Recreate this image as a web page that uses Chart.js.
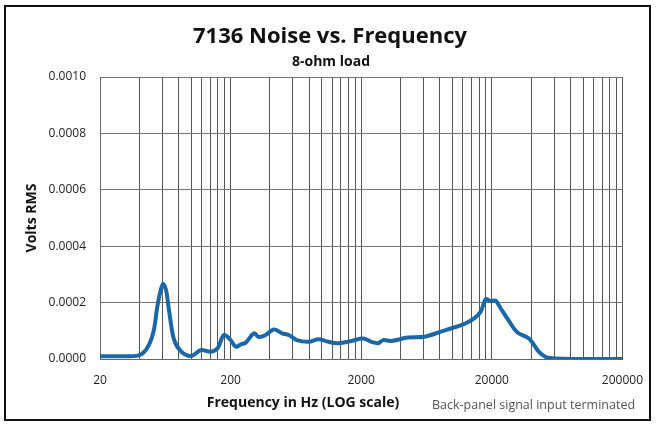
<!DOCTYPE html>
<html>
<head>
<meta charset="utf-8">
<script src="https://cdn.jsdelivr.net/npm/chart.js@4.4.1/dist/chart.umd.min.js"></script>
<style>
    html, body { margin: 0; padding: 0; background: #fff; overflow: hidden; }
    #wrap { position: relative; width: 657px; height: 424px; }
</style>
</head>
<body>
<div id="wrap"><canvas id="grafico" width="657" height="424"></canvas></div>
<script>
// frequências (Hz)
const freqHz = [20, 28, 39, 45, 51, 55.5, 60.5, 64, 68, 74, 84, 100, 119, 141, 159, 178, 200, 219, 240, 261, 302, 329, 371, 428, 496, 557, 644, 791, 942, 1122, 1337, 1688, 2070, 2394, 2692, 2938, 3398, 4550, 6098, 8160, 10320, 12300, 14650, 16450, 17970, 19600, 21380, 23340, 27040, 31260, 38380, 41380, 45700, 51320, 57670, 70800, 100000, 200000];
// ruído em Volts RMS
const voltsRms = [0.000010, 0.000010, 0.000012, 0.000032, 0.000091, 0.000197, 0.000265, 0.000245, 0.000163, 0.000067, 0.000026, 0.000011, 0.000032, 0.000026, 0.000038, 0.000085, 0.000067, 0.000044, 0.000052, 0.000058, 0.000091, 0.000078, 0.000085, 0.000105, 0.000091, 0.000085, 0.000067, 0.000061, 0.000070, 0.000061, 0.000056, 0.000064, 0.000073, 0.000061, 0.000056, 0.000067, 0.000064, 0.000076, 0.000079, 0.000097, 0.000112, 0.000124, 0.000144, 0.000168, 0.000212, 0.000205, 0.000207, 0.000180, 0.000135, 0.000095, 0.000073, 0.000055, 0.000026, 0.000008, 0.000003, 0.000001, 0, 0];
const xTickLabels = [20, 200, 2000, 20000, 200000];
const yTicks = [0, 0.0002, 0.0004, 0.0006, 0.0008, 0.0010];

// linhas de grade no estilo do Excel: 20, 40, 60 ... 200, 400 ...
const gradeX = [];
xTickLabels.slice(0, -1).forEach(d => {
    for (let k = 1; k <= 9; k++) gradeX.push(d * k);
});
gradeX.push(xTickLabels[xTickLabels.length - 1]);

const fonte = "'Open Sans', 'DejaVu Sans', sans-serif";

const textos = {
    id: "textos",
    beforeDraw(chart) {
        const c = chart.ctx;
        c.save();
        c.fillStyle = "#fff";
        c.fillRect(0, 0, chart.width, chart.height);
        c.restore();
    },
    afterDraw(chart) {
        const c = chart.ctx;
        c.save();
        // moldura externa
        c.strokeStyle = "#111";
        c.lineWidth = 2;
        c.strokeRect(5, 6, 645, 414);

        c.fillStyle = "#111";
        c.textAlign = "center";
        c.textBaseline = "middle";
        c.font = "bold 22px " + fonte;
        c.fillText("7136 Noise vs. Frequency", 330, 37);
        c.font = "bold 14px " + fonte;
        c.fillText("8-ohm load", 331, 62);

        c.font = "bold 14px " + fonte;
        c.fillText("Frequency in Hz (LOG scale)", 303, 403);

        c.font = "12.5px " + fonte;
        c.fillStyle = "#555";
        c.textAlign = "left";
        c.fillText("Back-panel signal input terminated", 432, 405);

        c.translate(32, 218);
        c.rotate(-Math.PI / 2);
        c.fillStyle = "#111";
        c.textAlign = "center";
        c.font = "bold 14px " + fonte;
        c.fillText("Volts RMS", 0, 0);
        c.restore();
    }
};

new Chart(document.getElementById("grafico"), {
    type: "line",
    data: {
        datasets: [{
            data: freqHz.map((f, i) => ({ x: f, y: voltsRms[i] })),
            borderColor: "#1b67a8",
            borderWidth: 4,
            pointRadius: 0,
            tension: 0.35,
            fill: false
        }]
    },
    options: {
        responsive: false,
        animation: false,
        layout: { padding: { top: 77, left: 0, right: 30, bottom: 0 } },
        plugins: {
            legend: { display: false },
            tooltip: { enabled: false }
        },
        scales: {
            x: {
                type: "logarithmic",
                min: 20,
                max: 200000,
                afterBuildTicks: (scale) => {
                    scale.ticks = gradeX.map(v => ({ value: v }));
                },
                afterFit: (scale) => { scale.height = 65; },
                border: { color: "#666", width: 1 },
                grid: { color: "#555", lineWidth: 1, drawTicks: false },
                ticks: {
                    autoSkip: false,
                    maxRotation: 0,
                    padding: 14,
                    color: "#222",
                    font: { family: fonte, size: 12 },
                    callback: (v) => xTickLabels.includes(v) ? String(v) : ""
                }
            },
            y: {
                min: 0,
                max: 0.001,
                afterBuildTicks: (scale) => {
                    scale.ticks = yTicks.map(v => ({ value: v }));
                },
                afterFit: (scale) => { scale.width = 100; },
                border: { color: "#666", width: 1 },
                grid: { color: "#777", lineWidth: 1, drawTicks: false },
                ticks: {
                    padding: 14,
                    color: "#222",
                    font: { family: fonte, size: 12 },
                    callback: (v) => v.toFixed(4)
                }
            }
        }
    },
    plugins: [textos]
});
</script>
</body>
</html>
